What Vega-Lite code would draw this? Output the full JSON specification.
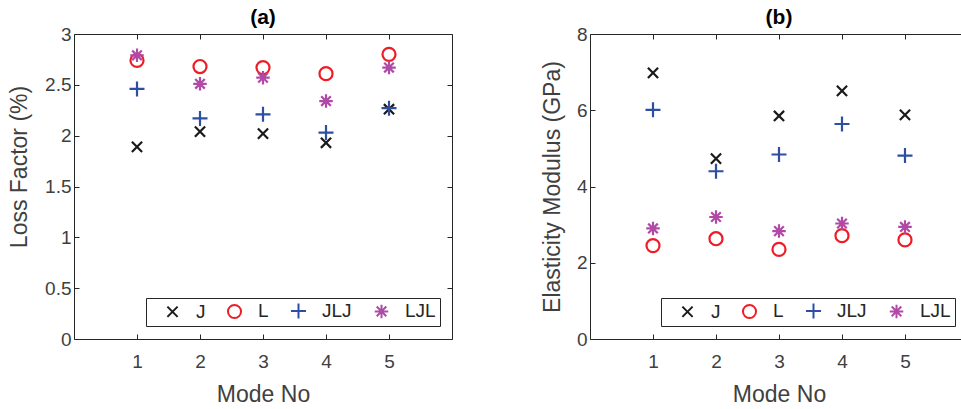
{
  "$schema": "https://vega.github.io/schema/vega-lite/v6.json",
  "padding": {"left": 8, "top": 7, "right": 0, "bottom": 0},
  "background": "white",
  "datasets": {
    "a": [
      {"mode": 1, "series": "J", "value": 1.89}, {"mode": 2, "series": "J", "value": 2.04}, {"mode": 3, "series": "J", "value": 2.02}, {"mode": 4, "series": "J", "value": 1.93}, {"mode": 5, "series": "J", "value": 2.26},
      {"mode": 1, "series": "L", "value": 2.74}, {"mode": 2, "series": "L", "value": 2.68}, {"mode": 3, "series": "L", "value": 2.67}, {"mode": 4, "series": "L", "value": 2.61}, {"mode": 5, "series": "L", "value": 2.80},
      {"mode": 1, "series": "JLJ", "value": 2.46}, {"mode": 2, "series": "JLJ", "value": 2.17}, {"mode": 3, "series": "JLJ", "value": 2.21}, {"mode": 4, "series": "JLJ", "value": 2.03}, {"mode": 5, "series": "JLJ", "value": 2.27},
      {"mode": 1, "series": "LJL", "value": 2.79}, {"mode": 2, "series": "LJL", "value": 2.51}, {"mode": 3, "series": "LJL", "value": 2.57}, {"mode": 4, "series": "LJL", "value": 2.34}, {"mode": 5, "series": "LJL", "value": 2.67}
    ],
    "b": [
      {"mode": 1, "series": "J", "value": 6.98}, {"mode": 2, "series": "J", "value": 4.73}, {"mode": 3, "series": "J", "value": 5.85}, {"mode": 4, "series": "J", "value": 6.51}, {"mode": 5, "series": "J", "value": 5.88},
      {"mode": 1, "series": "L", "value": 2.45}, {"mode": 2, "series": "L", "value": 2.63}, {"mode": 3, "series": "L", "value": 2.35}, {"mode": 4, "series": "L", "value": 2.71}, {"mode": 5, "series": "L", "value": 2.60},
      {"mode": 1, "series": "JLJ", "value": 6.01}, {"mode": 2, "series": "JLJ", "value": 4.40}, {"mode": 3, "series": "JLJ", "value": 4.84}, {"mode": 4, "series": "JLJ", "value": 5.64}, {"mode": 5, "series": "JLJ", "value": 4.81},
      {"mode": 1, "series": "LJL", "value": 2.90}, {"mode": 2, "series": "LJL", "value": 3.20}, {"mode": 3, "series": "LJL", "value": 2.83}, {"mode": 4, "series": "LJL", "value": 3.03}, {"mode": 5, "series": "LJL", "value": 2.94}
    ]
  },
  "config": {
    "view": {"stroke": null},
    "font": "Liberation Sans",
    "axis": {
      "grid": false,
      "domainColor": "#262626",
      "tickColor": "#262626",
      "labelColor": "#404040",
      "titleColor": "#404040",
      "labelFont": "Liberation Sans",
      "titleFont": "Liberation Sans",
      "labelFontSize": 19,
      "titleFontSize": 23,
      "titleFontWeight": "normal",
      "tickSize": -5,
      "domainWidth": 1,
      "tickWidth": 1
    },
    "legend": {
      "orient": "none",
      "direction": "horizontal",
      "labelFont": "Liberation Sans",
      "labelFontSize": 19,
      "labelColor": "#262626",
      "strokeColor": "#262626",
      "fillColor": "white",
      "padding": 3.5,
      "symbolSize": 225,
      "symbolStrokeWidth": 2,
      "labelOffset": 14,
      "columnPadding": 6,
      "symbolOffset": 13.5
    },
    "title": {"font": "Liberation Sans", "fontSize": 21, "fontWeight": "bold", "color": "#000000", "offset": -3, "anchor": "middle", "frame": "group"}
  },
  "hconcat": [
    {
      "width": 378,
      "height": 305,
      "title": "(a)",
      "layer": [
        {
          "data": {"name": "a"},
          "mark": {"type": "point", "filled": false, "strokeWidth": 2.2, "size": 225, "opacity": 1},
          "encoding": {
            "x": {"field": "mode", "type": "quantitative", "scale": {"domain": [0, 6], "nice": false},
                  "axis": {"orient": "bottom", "values": [1, 2, 3, 4, 5], "title": "Mode No", "labelPadding": 18, "titleY": 55, "titleBaseline": "middle"}},
            "y": {"field": "value", "type": "quantitative", "scale": {"domain": [0, 3], "nice": false},
                  "axis": {"orient": "left", "values": [0, 0.5, 1, 1.5, 2, 2.5, 3], "format": "~g", "title": "Loss Factor (%)", "labelPadding": 8, "titleX": -54.5, "titleY": 132.5, "titleAngle": 270, "titleBaseline": "middle", "titleAlign": "center"}},
            "color": {"field": "series", "type": "nominal", "title": null,
                      "scale": {"domain": ["J", "L", "JLJ", "LJL"], "range": ["#1a1a1a", "#ee1c25", "#2d4ea3", "#b14aa6"]},
                      "legend": {"legendX": 72, "legendY": 264}},
            "shape": {"field": "series", "type": "nominal", "title": null,
                      "scale": {"domain": ["J", "L", "JLJ", "LJL"], "range": [
                        "M-0.68,-0.68L0.68,0.68M-0.68,0.68L0.68,-0.68",
                        "M0.87,0A0.87,0.87,0,1,1,-0.87,0A0.87,0.87,0,1,1,0.87,0Z",
                        "M-1,0L1,0M0,-1L0,1",
                        "M-0.9,0L0.9,0M0,-0.9L0,0.9M-0.64,-0.64L0.64,0.64M-0.64,0.64L0.64,-0.64"]},
                      "legend": {"legendX": 72, "legendY": 264}}
          }
        },
        {
          "data": {"name": "a"},
          "mark": {"type": "point", "opacity": 0},
          "encoding": {
            "x": {"field": "mode", "type": "quantitative", "axis": {"orient": "top", "values": [1, 2, 3, 4, 5], "labels": false, "title": null}},
            "y": {"field": "value", "type": "quantitative", "axis": {"orient": "right", "values": [0, 0.5, 1, 1.5, 2, 2.5, 3], "labels": false, "title": null}}
          }
        }
      ]
    },
    {
      "width": 372,
      "height": 305,
      "title": {"text": "(b)", "dx": 3},
      "layer": [
        {
          "data": {"name": "b"},
          "mark": {"type": "point", "filled": false, "strokeWidth": 2.2, "size": 225, "opacity": 1},
          "encoding": {
            "x": {"field": "mode", "type": "quantitative", "scale": {"domain": [0, 5.905], "nice": false},
                  "axis": {"orient": "bottom", "values": [1, 2, 3, 4, 5], "title": "Mode No", "labelPadding": 18, "titleY": 55, "titleX": 189, "titleBaseline": "middle"}},
            "y": {"field": "value", "type": "quantitative", "scale": {"domain": [0, 8], "nice": false},
                  "axis": {"orient": "left", "values": [0, 2, 4, 6, 8], "format": "~g", "title": "Elasticity Modulus (GPa)", "labelPadding": 8, "titleX": -38, "titleY": 152.5, "titleAngle": 270, "titleBaseline": "middle", "titleAlign": "center"}},
            "color": {"field": "series", "type": "nominal", "title": null,
                      "scale": {"domain": ["J", "L", "JLJ", "LJL"], "range": ["#1a1a1a", "#ee1c25", "#2d4ea3", "#b14aa6"]},
                      "legend": {"legendX": 71, "legendY": 264}},
            "shape": {"field": "series", "type": "nominal", "title": null,
                      "scale": {"domain": ["J", "L", "JLJ", "LJL"], "range": [
                        "M-0.68,-0.68L0.68,0.68M-0.68,0.68L0.68,-0.68",
                        "M0.87,0A0.87,0.87,0,1,1,-0.87,0A0.87,0.87,0,1,1,0.87,0Z",
                        "M-1,0L1,0M0,-1L0,1",
                        "M-0.9,0L0.9,0M0,-0.9L0,0.9M-0.64,-0.64L0.64,0.64M-0.64,0.64L0.64,-0.64"]},
                      "legend": {"legendX": 71, "legendY": 264}}
          }
        },
        {
          "data": {"name": "b"},
          "mark": {"type": "point", "opacity": 0},
          "encoding": {
            "x": {"field": "mode", "type": "quantitative", "axis": {"orient": "top", "values": [1, 2, 3, 4, 5], "labels": false, "title": null}}
          }
        }
      ]
    }
  ],
  "spacing": 138,
  "bounds": "flush",
  "resolve": {"scale": {"color": "independent", "shape": "independent"}, "legend": {"color": "independent", "shape": "independent"}}
}
